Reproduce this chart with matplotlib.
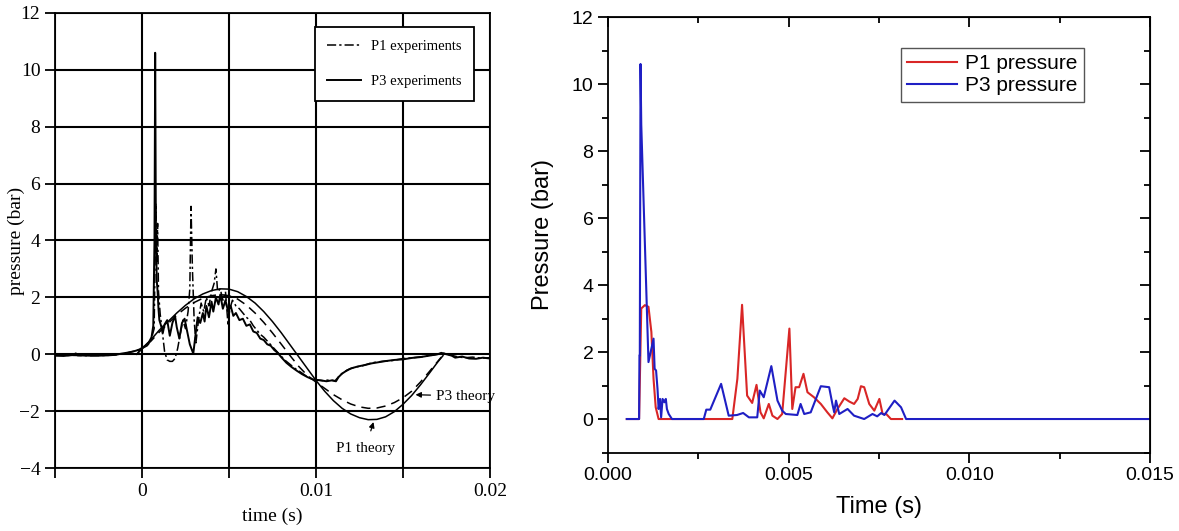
import matplotlib
matplotlib.use("Agg")
from matplotlib import pyplot as plt
from matplotlib.ticker import MultipleLocator, FixedLocator, FixedFormatter
import numpy as np

# ---- left panel (scanned paper figure), time in ms ----
p3_exp_t = [-5, -4.5, -4, -3.8, -3.7, -3, -2.5, -2, -1.5, -1.2, -0.8, -0.5, -0.2, 0.0, 0.2,
            0.4, 0.55, 0.65, 0.72, 0.76, 0.8, 0.85, 0.9, 0.95, 1.0, 1.1, 1.2, 1.3, 1.45,
            1.6, 1.75, 1.9, 2.0, 2.15, 2.3, 2.45, 2.6, 2.75, 2.95, 3.1, 3.2, 3.35, 3.5,
            3.6, 3.7, 3.85, 4.0, 4.1, 4.25, 4.4, 4.5, 4.65, 4.8, 4.95, 5.1, 5.25, 5.4,
            5.6, 5.8, 6.0, 6.2, 6.4, 6.6, 6.8, 7.0, 7.2, 7.4, 7.6, 7.8, 8.0, 8.3, 8.6,
            8.9, 9.2, 9.5, 9.8, 10.0, 10.3, 10.6, 10.9, 11.15, 11.3, 11.5, 11.7, 12.0,
            12.4, 12.8, 13.2, 13.6, 14.0, 14.5, 15.0, 15.5, 16.0, 16.5, 17.0, 17.2,
            17.5, 17.8, 18.0, 18.4, 18.8, 19.2, 19.6, 20.0]
p3_exp_p = [-0.05, -0.06, -0.03, 0.03, -0.04, -0.05, -0.05, -0.04, -0.02, 0.02, 0.06, 0.1,
            0.15, 0.22, 0.3, 0.42, 0.6, 1.0, 4.0, 10.6, 4.5, 2.6, 2.2, 1.6, 1.2, 1.0, 0.75,
            1.05, 1.2, 0.65, 1.1, 1.35, 0.95, 0.55, 1.1, 1.25, 0.8, 0.35, 0.02, 0.8, 1.3,
            1.1, 1.45, 1.15, 1.7, 1.3, 1.85, 1.5, 2.0, 1.75, 2.1, 1.6, 1.9, 1.5, 1.7, 1.35,
            1.45, 1.2, 1.25, 1.0, 1.05, 0.8, 0.75, 0.55, 0.5, 0.35, 0.3, 0.15, 0.05, -0.1,
            -0.3, -0.45, -0.58, -0.7, -0.8, -0.88, -0.9, -0.92, -0.95, -0.92, -0.95, -0.8,
            -0.68, -0.6, -0.5, -0.43, -0.38, -0.32, -0.28, -0.24, -0.2, -0.18, -0.13, -0.1,
            -0.05, 0.0, 0.05, 0.0, -0.05, -0.12, -0.08, -0.15, -0.16, -0.12, -0.15]

p1_exp_t = [-5, -4, -3, -2, -1.5, -1.0, -0.5, 0.0, 0.3, 0.5, 0.7, 0.8, 0.85, 0.9, 0.95,
            1.05, 1.15, 1.3, 1.45, 1.6, 1.75, 1.9, 2.05, 2.2, 2.35, 2.5, 2.65, 2.75, 2.82,
            2.9, 3.0, 3.1, 3.25, 3.4, 3.55, 3.7, 3.85, 4.0, 4.15, 4.25, 4.35, 4.5, 4.65,
            4.8, 4.95, 5.05, 5.2, 5.4, 5.6, 5.8, 6.0, 6.2, 6.4, 6.6, 6.8, 7.0, 7.3, 7.6,
            7.9, 8.2, 8.5, 8.8, 9.1, 9.4, 9.7, 10.0, 10.4, 10.8, 11.1, 11.4, 11.8, 12.2,
            12.7, 13.2, 13.8, 14.4, 15.0, 15.6, 16.2, 16.8, 17.3, 17.7, 18.2, 18.6, 19.0,
            19.5, 20.0]
p1_exp_p = [-0.04, -0.04, -0.05, -0.04, -0.02, 0.03, 0.1, 0.2, 0.3, 0.45, 0.9, 5.3, 3.2,
            4.6, 2.2, 1.4, 0.9, 0.1, -0.2, -0.25, -0.25, -0.15, 0.2, 0.7, 1.2, 0.9, 1.5,
            2.3, 5.2, 3.0, 1.2, 0.4, 1.2, 1.8, 1.5, 2.0, 1.7, 2.2, 2.5, 3.0, 2.2, 2.3, 1.9,
            2.2, 1.0, 1.6, 1.9, 1.7, 1.6, 1.45, 1.3, 1.2, 1.0, 0.85, 0.7, 0.6, 0.4, 0.2,
            0.0, -0.2, -0.35, -0.5, -0.62, -0.75, -0.85, -0.9, -0.93, -0.9, -0.93, -0.72,
            -0.55, -0.46, -0.4, -0.3, -0.25, -0.22, -0.15, -0.12, -0.08, -0.02, 0.04, -0.02,
            -0.1, -0.12, -0.1, -0.14, -0.12]

p1_th_t = [-0.3, 0.0, 0.5, 1.0, 1.5, 2.0, 2.5, 3.0, 3.5, 4.0, 4.5, 5.0, 5.5, 6.0, 6.5, 7.0,
           7.5, 8.0, 8.5, 9.0, 9.5, 10.0, 10.5, 11.0, 11.5, 12.0, 12.5, 13.0, 13.5, 14.0,
           14.5, 15.0, 15.5, 16.0, 16.5, 17.0, 17.3]
p1_th_p = [0.0, 0.2, 0.5, 0.85, 1.15, 1.45, 1.72, 1.95, 2.12, 2.24, 2.3, 2.29, 2.2, 2.03,
           1.8, 1.5, 1.15, 0.76, 0.34, -0.08, -0.5, -0.92, -1.3, -1.63, -1.9, -2.1, -2.23,
           -2.3, -2.29, -2.2, -2.02, -1.76, -1.45, -1.08, -0.68, -0.27, -0.05]

p3_th_t = [-0.3, 0.0, 0.5, 1.0, 1.5, 2.0, 2.5, 3.0, 3.5, 4.0, 4.5, 5.0, 5.5, 6.0, 6.5, 7.0,
           7.5, 8.0, 8.5, 9.0, 9.5, 10.0, 10.5, 11.0, 11.5, 12.0, 12.5, 13.0, 13.5, 14.0,
           14.5, 15.0, 15.5, 16.0, 16.5, 17.0, 17.2]
p3_th_p = [0.0, 0.2, 0.45, 0.78, 1.08, 1.38, 1.62, 1.82, 1.97, 2.06, 2.1, 2.06, 1.94, 1.73,
           1.45, 1.12, 0.75, 0.36, -0.04, -0.42, -0.74, -0.98, -1.2, -1.42, -1.6, -1.75,
           -1.85, -1.9, -1.89, -1.82, -1.7, -1.53, -1.3, -0.98, -0.62, -0.25, -0.1]

# ---- right panel (simulation), time in ms ----
p1_sim_t = [0.52, 0.86, 0.92, 1.02, 1.12, 1.2, 1.26, 1.32, 1.40, 3.44, 3.58, 3.71, 3.85,
            3.99, 4.11, 4.22, 4.31, 4.45, 4.55, 4.69, 4.82, 5.02, 5.10, 5.19, 5.29, 5.41,
            5.52, 5.70, 5.89, 6.07, 6.21, 6.35, 6.54, 6.68, 6.81, 6.91, 7.0, 7.09, 7.23,
            7.37, 7.51, 7.60, 7.70, 7.83, 8.14]
p1_sim_p = [0.0, 0.0, 3.3, 3.4, 3.35, 2.6, 1.2, 0.35, 0.0, 0.0, 1.2, 3.41, 0.7, 0.48, 1.02,
            0.2, 0.02, 0.45, 0.1, 0.0, 0.15, 2.7, 0.3, 0.95, 0.95, 1.35, 0.8, 0.65, 0.45,
            0.2, 0.02, 0.3, 0.62, 0.52, 0.45, 0.6, 0.98, 0.95, 0.45, 0.25, 0.6, 0.15, 0.15,
            0.0, 0.0]

p3_sim_t = [0.52, 0.86, 0.87, 0.88, 0.90, 0.92, 1.12, 1.26, 1.29, 1.33, 1.37, 1.40, 1.44,
            1.47, 1.51, 1.56, 1.60, 1.63, 1.68, 1.77, 2.65, 2.72, 2.83, 3.13, 3.34, 3.57,
            3.74, 3.90, 4.13, 4.20, 4.31, 4.52, 4.69, 4.82, 4.92, 5.24, 5.33, 5.43, 5.61,
            5.89, 6.12, 6.21, 6.26, 6.31, 6.40, 6.63, 6.81, 7.09, 7.32, 7.45, 7.56, 7.65,
            7.93, 8.11, 8.25, 15.0]
p3_sim_p = [0.0, 0.0, 1.9, 1.9, 10.6, 8.8, 1.7, 2.4, 1.5, 1.45, 0.9, 0.3, 0.6, 0.05, 0.6,
            0.5, 0.6, 0.3, 0.15, 0.0, 0.0, 0.28, 0.28, 1.05, 0.1, 0.12, 0.18, 0.05, 0.05,
            0.85, 0.65, 1.58, 0.55, 0.25, 0.15, 0.12, 0.45, 0.15, 0.2, 0.98, 0.95, 0.45,
            0.2, 0.55, 0.15, 0.3, 0.1, 0.0, 0.15, 0.08, 0.18, 0.12, 0.55, 0.35, 0.0, 0.0]

fig = plt.figure(figsize=(11.79, 5.31), dpi=100)
ax1 = fig.add_axes([0.0466, 0.1186, 0.369, 0.857])
ax2 = fig.add_axes([0.5157, 0.1478, 0.4597, 0.820])

# ---------------- left panel ----------------
serif = "Liberation Serif"
ms = 1e-3
ax1.plot(np.array(p1_exp_t) * ms, p1_exp_p, color="black", lw=1.1, ls=(0, (6, 2, 1.5, 2)),
         label="P1 experiments")
ax1.plot(np.array(p3_exp_t) * ms, p3_exp_p, color="black", lw=1.4, label="P3 experiments")
ax1.plot(np.array(p1_th_t) * ms, p1_th_p, color="black", lw=1.1)
ax1.plot(np.array(p3_th_t) * ms, p3_th_p, color="black", lw=1.1, ls=(0, (6, 4)))

ax1.set_xlim(-0.005, 0.02)
ax1.set_ylim(-4, 12)
ax1.xaxis.set_major_locator(FixedLocator([-0.005, 0, 0.005, 0.01, 0.015, 0.02]))
ax1.xaxis.set_major_formatter(FixedFormatter(["", "0", "", "0.01", "", "0.02"]))
ax1.yaxis.set_major_locator(MultipleLocator(2))
ax1.grid(True, color="black", lw=1.5)
for s in ax1.spines.values():
    s.set_linewidth(1.3)
ax1.tick_params(axis="both", direction="out", length=7, width=1.3, labelsize=14,
                color="black")
for lab in ax1.get_xticklabels() + ax1.get_yticklabels():
    lab.set_family(serif)
ax1.set_xlabel("time (s)", family=serif, fontsize=14)
ax1.set_ylabel("pressure (bar)", family=serif, fontsize=14)
ax1.xaxis.set_label_coords(0.5, -0.088)
ax1.yaxis.set_label_coords(-0.069, 0.5)

leg1 = ax1.legend(loc="upper right", bbox_to_anchor=(0.963, 0.969),
                  prop={"family": serif, "size": 10.5}, frameon=True, fancybox=False,
                  edgecolor="black", framealpha=1, labelspacing=1.55, borderpad=0.85,
                  handlelength=2.3, handletextpad=0.7, borderaxespad=0)
leg1.get_frame().set_linewidth(1.3)

ax1.annotate("P3 theory", xy=(0.01556, -1.42), xytext=(0.0169, -1.47),
             family=serif, fontsize=11, va="center",
             arrowprops=dict(arrowstyle="-|>", color="black", lw=0.9, mutation_scale=8))
ax1.annotate("P1 theory", xy=(0.01335, -2.29), xytext=(0.01285, -3.3),
             family=serif, fontsize=11, ha="center", va="center",
             arrowprops=dict(arrowstyle="-|>", color="black", lw=0.9, mutation_scale=8,
                             shrinkA=6))

# ---------------- right panel ----------------
sans = "Liberation Sans"
ax2.plot(np.array(p1_sim_t) * ms, p1_sim_p, color="#d92626", lw=1.5, label="P1 pressure")
ax2.plot(np.array(p3_sim_t) * ms, p3_sim_p, color="#1f1fc4", lw=1.5, label="P3 pressure")

ax2.set_xlim(0, 0.015)
ax2.set_ylim(-1, 12)
ax2.xaxis.set_major_locator(MultipleLocator(0.005))
ax2.xaxis.set_minor_locator(MultipleLocator(0.0025))
ax2.yaxis.set_major_locator(FixedLocator([0, 2, 4, 6, 8, 10, 12]))
ax2.yaxis.set_minor_locator(MultipleLocator(1))
ax2.xaxis.set_major_formatter(plt.FuncFormatter(lambda v, p: f"{v:.3f}"))
for s in ax2.spines.values():
    s.set_linewidth(1.3)
ax2.tick_params(which="both", direction="out", width=1.3, labelsize=14,
                top=False, right=False)
ax2.tick_params(which="major", length=7)
ax2.tick_params(which="minor", length=4)
for lab in ax2.get_xticklabels() + ax2.get_yticklabels():
    lab.set_family(sans)

# inward ticks on top and right, like the Origin style
sec_x = ax2.secondary_xaxis("top")
sec_x.xaxis.set_major_locator(MultipleLocator(0.005))
sec_x.xaxis.set_minor_locator(MultipleLocator(0.0025))
sec_x.tick_params(which="both", direction="in", labeltop=False, width=1.3)
sec_x.tick_params(which="major", length=7)
sec_x.tick_params(which="minor", length=4)
sec_y = ax2.secondary_yaxis("right")
sec_y.yaxis.set_major_locator(FixedLocator([0, 2, 4, 6, 8, 10, 12]))
sec_y.yaxis.set_minor_locator(MultipleLocator(1))
sec_y.tick_params(which="both", direction="in", labelright=False, width=1.3)
sec_y.tick_params(which="major", length=7)
sec_y.tick_params(which="minor", length=4)

ax2.set_xlabel("Time (s)", family=sans, fontsize=17)
ax2.set_ylabel("Pressure (bar)", family=sans, fontsize=17)
ax2.xaxis.set_label_coords(0.5, -0.1)
ax2.yaxis.set_label_coords(-0.0996, 0.5)

leg2 = ax2.legend(loc="upper right", bbox_to_anchor=(0.878, 0.929),
                  prop={"family": sans, "size": 15}, frameon=True, fancybox=False,
                  edgecolor="#555555", framealpha=1, borderpad=0.3, labelspacing=0.15,
                  handlelength=2.4, handletextpad=0.4, borderaxespad=0)
leg2.get_frame().set_linewidth(1.0)

fig.savefig("out.png", dpi=100)
